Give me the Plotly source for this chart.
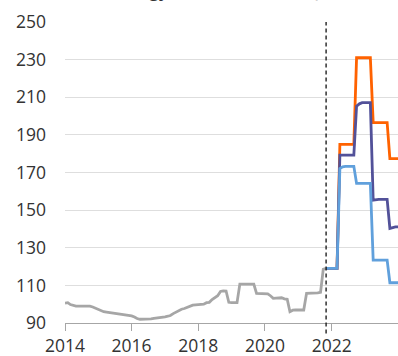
import pandas as pd
import plotly.graph_objects as go

# Household energy CPI, monthly index level
history_months = pd.date_range("2014-01-01", "2021-11-01", freq="MS")
history = [
    100.5, 100.8, 99.8, 99.2, 99.0, 99.0, 99.0, 99.0, 99.0, 99.0, 98.5, 97.9,      # 2014
    97.0, 96.3, 96.0, 95.8, 95.6, 95.5, 95.3, 95.1, 94.9, 94.7, 94.4, 94.2,        # 2015
    93.8, 93.2, 92.4, 92.0, 92.0, 92.0, 92.0, 92.2, 92.5, 92.6, 92.9, 93.1,        # 2016
    93.3, 93.6, 94.0, 95.0, 95.8, 96.8, 97.3, 97.7, 98.3, 98.8, 99.5, 99.6,        # 2017
    99.6, 99.7, 100.0, 100.8, 101.0, 102.5, 103.5, 104.5, 106.8, 107.1, 107.0, 101.0,  # 2018
    100.8, 100.8, 100.8, 110.7, 110.7, 110.7, 110.7, 110.7, 110.7, 105.8, 105.8, 105.8,  # 2019
    105.8, 105.5, 104.5, 103.1, 103.2, 103.4, 103.4, 102.8, 102.6, 96.0, 96.8, 96.9,   # 2020
    96.9, 96.9, 96.9, 105.8, 105.8, 106.0, 106.1, 106.0, 106.3, 118.5, 119.0,          # 2021
]

forecast_months = pd.date_range("2021-11-01", "2024-01-01", freq="MS")
high = [119.0] * 5 + [185.0] * 6 + [231.0] * 6 + [196.5] * 6 + [177.4] * 4
central = ([119.0] * 5 + [179.2] * 6 + [205.3, 206.5, 207.1, 207.1, 207.1, 207.1]
           + [155.3, 155.6, 155.7, 155.7, 155.7, 155.7] + [140.3, 140.8, 141.1, 141.1])
low = ([119.0] * 5 + [172.1, 173.0, 173.3, 173.3, 173.3, 173.3]
       + [164.2] * 6 + [123.4] * 6 + [111.4] * 4)

forecast_start = "2021-11-01"
y_ticks = [90, 110, 130, 150, 170, 190, 210, 230, 250]
x_ticks = ["2014-01-01", "2016-01-01", "2018-01-01", "2020-01-01", "2022-01-01"]
x_tick_labels = ["2014", "2016", "2018", "2020", "2022"]

title_text = "Household energy CPI - Level (100 = Jan 2015)"

GREY = "#a6a6a6"
ORANGE = "#ff6200"
INDIGO = "#525199"
SKY = "#60a0dc"
LW = 2.8

fig = go.Figure()
fig.add_trace(go.Scatter(x=history_months, y=history, mode="lines",
                         line=dict(color=GREY, width=LW), name="Actual"))
fig.add_trace(go.Scatter(x=forecast_months, y=high, mode="lines",
                         line=dict(color=ORANGE, width=LW), name="High"))
fig.add_trace(go.Scatter(x=forecast_months, y=central, mode="lines",
                         line=dict(color=INDIGO, width=LW), name="Central"))
fig.add_trace(go.Scatter(x=forecast_months, y=low, mode="lines",
                         line=dict(color=SKY, width=LW), name="Low"))

fig.add_shape(type="line", xref="x", yref="paper",
              x0=forecast_start, x1=forecast_start, y0=-0.035, y1=1.0,
              line=dict(color="#111111", width=1.3, dash="4px,3px"))

fig.add_annotation(text=f"<b>{title_text}</b>", xref="paper", yref="paper",
                   x=-0.157, y=1.06, xanchor="left", yanchor="bottom",
                   showarrow=False, font=dict(size=17, color="#333333"))

tick_font = dict(family="Open Sans", size=17.5, color="#333333")

fig.update_layout(
    width=398, height=356,
    margin=dict(l=65, r=0, t=22, b=33),
    paper_bgcolor="white", plot_bgcolor="white",
    showlegend=False,
    font=dict(family="Open Sans"),
)
fig.update_xaxes(
    range=["2014-01-01", "2023-12-29"],
    tickvals=x_ticks, ticktext=x_tick_labels,
    showgrid=False, showline=True, linecolor=GREY, linewidth=1,
    ticks="outside", ticklen=7, tickcolor=GREY, tickwidth=1,
    tickfont=tick_font, zeroline=False,
)
fig.update_yaxes(
    range=[90, 250], tickvals=y_ticks,
    showgrid=True, gridcolor="#dedede", gridwidth=1,
    showline=False, ticks="", ticklabelstandoff=18,
    tickfont=tick_font, zeroline=False,
)

fig.write_html("out.html")
